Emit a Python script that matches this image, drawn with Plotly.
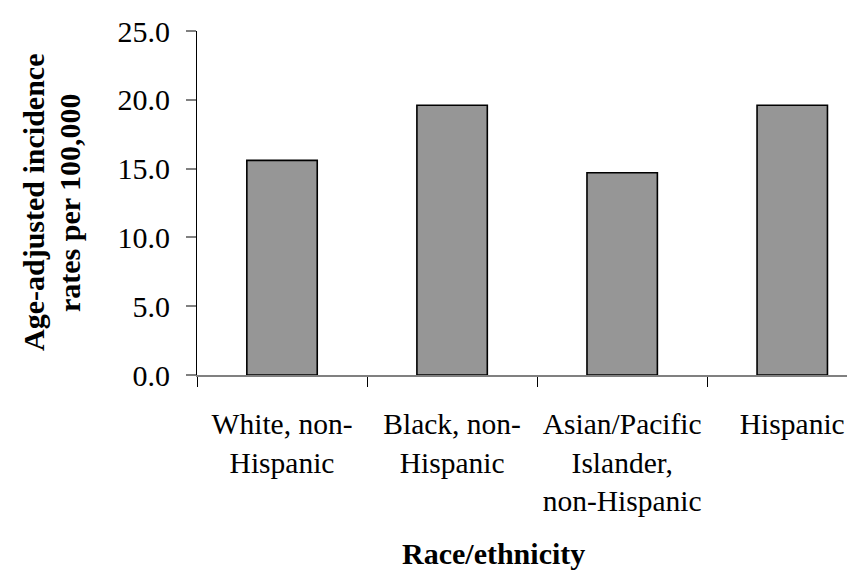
import plotly.graph_objects as go

categories = ["White, non-Hispanic", "Black, non-Hispanic",
              "Asian/Pacific Islander, non-Hispanic", "Hispanic"]
tick_labels = ["White, non-<br>Hispanic", "Black, non-<br>Hispanic",
               "Asian/Pacific<br>Islander,<br>non-Hispanic", "Hispanic"]
rates = [15.6, 19.6, 14.7, 19.6]
y_ticks = [0, 5, 10, 15, 20, 25]

FONT = "Liberation Serif"

fig = go.Figure(go.Bar(
    x=categories, y=rates,
    marker=dict(color="#969696", line=dict(color="black", width=1.6)),
    width=0.414,
))

fig.update_layout(
    width=855, height=571,
    margin=dict(l=189, r=0, t=23, b=204, autoexpand=False),
    plot_bgcolor="white", paper_bgcolor="white",
    showlegend=False,
    font=dict(family=FONT, color="black", size=30),
)

fig.update_xaxes(
    range=[-0.5, 3.416], automargin=False,
    tickmode="array", tickvals=categories, ticktext=tick_labels,
    tickson="boundaries", ticks="outside", ticklen=10, tickcolor="black", tickwidth=1,
    showline=True, linecolor="#808080", linewidth=2,
    showgrid=False, zeroline=False,
    tickfont=dict(family=FONT, size=29.5, color="black"),
    ticklabelstandoff=22,
)
fig.update_yaxes(
    range=[0, 25], automargin=False, tickvals=y_ticks, tickformat=".1f",
    ticks="outside", ticklen=10, tickcolor="#808080", tickwidth=2,
    showline=True, linecolor="black", linewidth=1,
    showgrid=False, zeroline=False,
    tickfont=dict(family=FONT, size=30, color="black"),
    ticklabelstandoff=10,
)

fig.add_annotation(
    text="<b>Age-adjusted incidence</b>",
    xref="paper", yref="paper", x=0, y=0.5, xshift=25 - 189,
    xanchor="center", yanchor="middle", textangle=-90, showarrow=False,
    font=dict(family=FONT, size=30, color="black"),
)
fig.add_annotation(
    text="<b>rates per 100,000</b>",
    xref="paper", yref="paper", x=0, y=0.5, xshift=61 - 189,
    xanchor="center", yanchor="middle", textangle=-90, showarrow=False,
    font=dict(family=FONT, size=30, color="black"),
)
fig.add_annotation(
    text="<b>Race/ethnicity</b>",
    xref="paper", yref="paper", x=0, y=0, xshift=485 - 189, yshift=-178,
    xanchor="center", yanchor="middle", showarrow=False,
    font=dict(family=FONT, size=30, color="black"),
)

fig.write_html("out.html")
